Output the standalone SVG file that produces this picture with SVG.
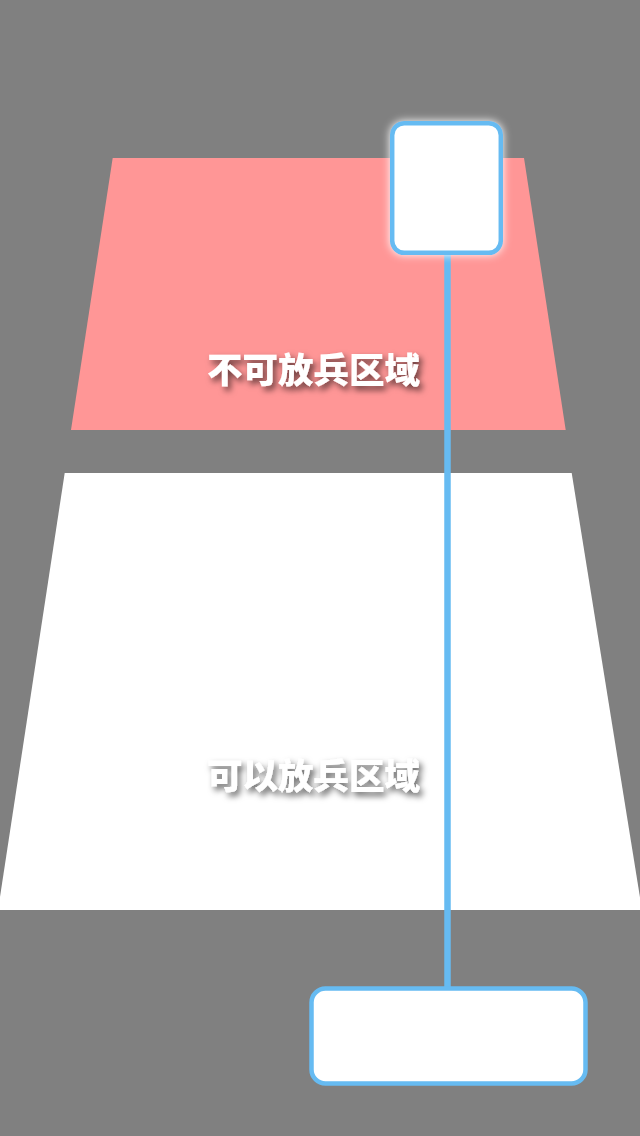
<svg xmlns="http://www.w3.org/2000/svg" width="640" height="1136" viewBox="0 0 640 1136">
<defs>
<style>
.zone-label{font-family:"Noto Sans CJK SC","Noto Sans",sans-serif;font-weight:900;font-size:35.5px;fill:#ffffff;text-anchor:middle;}
.box{fill:#ffffff;stroke:#66bbf2;stroke-width:4.5;}
.link{stroke:#66bbf2;stroke-width:6.5;fill:none;}
</style>
<filter id="txtShadow" x="-20%" y="-40%" width="140%" height="180%">
<feDropShadow dx="3" dy="4" stdDeviation="3" flood-color="#000000" flood-opacity="0.6"/>
</filter>
<filter id="glow" x="-20%" y="-20%" width="140%" height="140%">
<feDropShadow dx="0" dy="0" stdDeviation="4" flood-color="#ffffff" flood-opacity="1"/>
</filter>
</defs>
<rect x="0" y="0" width="640" height="1136" fill="#808080"/>
<g id="zone-forbidden">
<polygon points="112.7,158 524,158 565.7,430 71,430" fill="#ff9696"/>
<text class="zone-label" x="313.5" y="383" filter="url(#txtShadow)">不可放兵区域</text>
</g>
<g id="zone-allowed">
<polygon points="64.7,473 571.7,473 642,910 -2,910" fill="#ffffff"/>
<text class="zone-label" x="313.5" y="788.5" filter="url(#txtShadow)">可以放兵区域</text>
</g>
<g id="connectors">
<line class="link" x1="447.5" y1="253" x2="447.5" y2="988"/>
</g>
<g id="top-box">
<rect class="box" x="392.2" y="123.2" width="108.6" height="129.6" rx="12" filter="url(#glow)"/>
</g>
<g id="bottom-box">
<rect class="box" x="311.5" y="988.5" width="274" height="95" rx="14"/>
</g>
</svg>
